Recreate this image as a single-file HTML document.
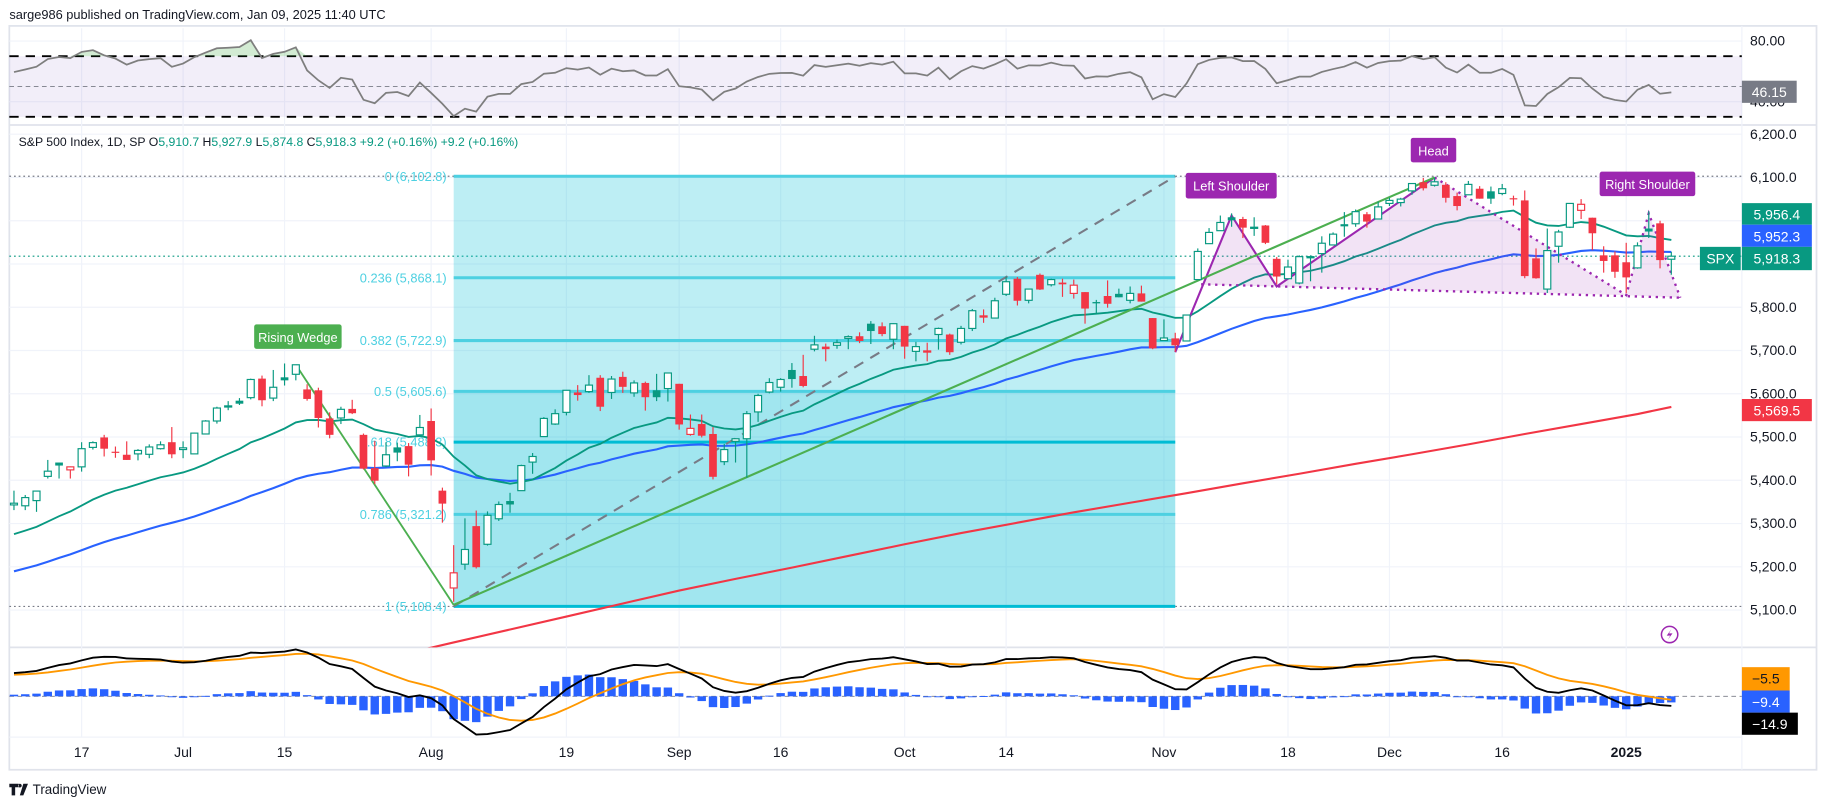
<!DOCTYPE html>
<html><head><meta charset="utf-8"><style>
html,body{margin:0;padding:0;background:#fff;}
svg{display:block;font-family:"Liberation Sans",sans-serif;}
</style></head><body>
<svg id="chart" width="1827" height="805" viewBox="0 0 1567 690" xmlns="http://www.w3.org/2000/svg">
<defs>
<clipPath id="cpPrice"><rect x="0" y="108" width="1494" height="447"/></clipPath>
<clipPath id="cpRsi"><rect x="0" y="24" width="1494" height="83"/></clipPath>
<clipPath id="cpMacd"><rect x="0" y="556" width="1494" height="76"/></clipPath>
</defs>
<text x="8" y="16" font-size="11" fill="#131722">sarge986 published on TradingView.com, Jan 09, 2025 11:40 UTC</text>
<rect x="8" y="22" width="1550" height="638" fill="none" stroke="#e0e3eb" stroke-width="1.5"/>
<line x1="8" y1="107" x2="1558" y2="107" stroke="#e0e3eb" stroke-width="1.5"/>
<line x1="8" y1="555" x2="1558" y2="555" stroke="#e0e3eb" stroke-width="1.5"/>
<line x1="8" y1="632" x2="1494" y2="632" stroke="#f0f3fa" stroke-width="1"/>
<line x1="1494" y1="22" x2="1494" y2="660" stroke="#f0f3fa" stroke-width="1"/>
<g id="grid"></g>
<g id="rsi" clip-path="url(#cpRsi)"></g>
<g id="price" clip-path="url(#cpPrice)"></g>
<g id="macd" clip-path="url(#cpMacd)"></g>
<g id="axes"></g>
<text x="16" y="125" font-size="10.5" fill="#131722">S&amp;P 500 Index, 1D, SP  <tspan fill="#131722">O</tspan><tspan fill="#089981">5,910.7</tspan> <tspan fill="#131722">H</tspan><tspan fill="#089981">5,927.9</tspan> <tspan fill="#131722">L</tspan><tspan fill="#089981">5,874.8</tspan> <tspan fill="#131722">C</tspan><tspan fill="#089981">5,918.3 +9.2 (+0.16%) +9.2 (+0.16%)</tspan></text>
<g><rect x="218" y="278" width="75" height="21" rx="2" fill="#4caf50"/><text x="255.5" y="293" font-size="11" fill="#fff" text-anchor="middle">Rising Wedge</text></g>
<g><rect x="1017" y="148" width="78" height="22" rx="2" fill="#9c27b0"/><text x="1056" y="163" font-size="11" fill="#fff" text-anchor="middle">Left Shoulder</text></g>
<g><rect x="1210" y="118" width="39" height="21" rx="2" fill="#9c27b0"/><text x="1229.5" y="133" font-size="11" fill="#fff" text-anchor="middle">Head</text></g>
<g><rect x="1372" y="147" width="82" height="21" rx="2" fill="#9c27b0"/><text x="1413" y="162" font-size="11" fill="#fff" text-anchor="middle">Right Shoulder</text></g>
<g><rect x="1494" y="69" width="47" height="19" fill="#787b86"/><text x="1517.5" y="83" font-size="12" fill="#fff" text-anchor="middle">46.15</text></g>
<g><rect x="1494" y="174" width="60" height="18.5" fill="#089981"/><text x="1524" y="188" font-size="12" fill="#fff" text-anchor="middle">5,956.4</text></g>
<g><rect x="1494" y="192.5" width="60" height="19" fill="#2962ff"/><text x="1524" y="207" font-size="12" fill="#fff" text-anchor="middle">5,952.3</text></g>
<g><rect x="1458" y="211.5" width="35" height="20" fill="#089981"/><text x="1475.5" y="226" font-size="12" fill="#fff" text-anchor="middle">SPX</text></g>
<g><rect x="1494" y="211.5" width="60" height="20" fill="#089981"/><text x="1524" y="226" font-size="12" fill="#fff" text-anchor="middle">5,918.3</text></g>
<g><rect x="1494" y="342" width="60" height="19" fill="#f23645"/><text x="1524" y="356" font-size="12" fill="#fff" text-anchor="middle">5,569.5</text></g>
<g><rect x="1494" y="572" width="41" height="20" fill="#ff9800"/><text x="1514.5" y="586" font-size="12" fill="#131722" text-anchor="middle">−5.5</text></g>
<g><rect x="1494" y="592" width="41" height="19" fill="#2962ff"/><text x="1514.5" y="606" font-size="12" fill="#fff" text-anchor="middle">−9.4</text></g>
<g><rect x="1494" y="611" width="48" height="19" fill="#000"/><text x="1518" y="625" font-size="12" fill="#fff" text-anchor="middle">−14.9</text></g>
<g><circle cx="1432" cy="544" r="7" fill="none" stroke="#9c27b0" stroke-width="1.3"/><path d="M1433.5 539.5 L1429.5 545 L1432.5 545 L1430.5 548.5 L1434.5 543 L1431.5 543 Z" fill="#9c27b0"/></g>
<g><path d="M8 672 h8 v3 h-3 v7 h-3 v-7 h-2 z M17 672 a1.6 1.6 0 1 0 0.1 0 z M20 672 h4 l-4 10 h-3 z" fill="#131722"/><text x="28" y="681" font-size="11.5" fill="#131722">TradingView</text></g>
<script>
// ---- data ----
const dates = ["06-07","06-10","06-11","06-12","06-13","06-14","06-17","06-18","06-20","06-21","06-24","06-25","06-26","06-27","06-28",
"07-01","07-02","07-03","07-05","07-08","07-09","07-10","07-11","07-12","07-15","07-16","07-17","07-18","07-19","07-22","07-23","07-24","07-25","07-26","07-29","07-30","07-31",
"08-01","08-02","08-05","08-06","08-07","08-08","08-09","08-12","08-13","08-14","08-15","08-16","08-19","08-20","08-21","08-22","08-23","08-26","08-27","08-28","08-29","08-30",
"09-03","09-04","09-05","09-06","09-09","09-10","09-11","09-12","09-13","09-16","09-17","09-18","09-19","09-20","09-23","09-24","09-25","09-26","09-27","09-30",
"10-01","10-02","10-03","10-04","10-07","10-08","10-09","10-10","10-11","10-14","10-15","10-16","10-17","10-18","10-21","10-22","10-23","10-24","10-25","10-28","10-29","10-30","10-31",
"11-01","11-04","11-05","11-06","11-07","11-08","11-11","11-12","11-13","11-14","11-15","11-18","11-19","11-20","11-21","11-22","11-25","11-26","11-27","11-29",
"12-02","12-03","12-04","12-05","12-06","12-09","12-10","12-11","12-12","12-13","12-16","12-17","12-18","12-19","12-20","12-23","12-24","12-26","12-27","12-30","12-31",
"01-02","01-03","01-06","01-07","01-08"];
const opens = [5343,5341,5353,5409,5441,5424,5431,5476,5499,5466,5459,5461,5460,5473,5488,
5471,5461,5507,5537,5572,5584,5591,5635,5590,5638,5645,5610,5608,5543,5544,5565,5505,5428,5433,5476,5479,5505,
5537,5376,5151,5206,5294,5252,5311,5352,5376,5442,5501,5530,5557,5603,5605,5637,5603,5639,5602,5625,5608,5612,
5623,5506,5530,5507,5443,5490,5496,5558,5604,5615,5655,5641,5703,5709,5712,5728,5733,5762,5756,5726,
5757,5698,5698,5737,5737,5719,5751,5778,5775,5830,5866,5816,5875,5852,5857,5832,5835,5812,5826,5831,5816,5832,5775,
5723,5728,5722,5864,5947,5977,6008,6004,5985,5989,5912,5866,5856,5917,5924,5944,5992,5993,6015,6004,
6040,6042,6069,6089,6082,6083,6057,6060,6074,6068,6063,6052,6047,5913,5842,5941,5985,6024,6007,5920,5920,
5904,5891,5982,5994,5911];
const highs = [5376,5366,5376,5447,5441,5432,5488,5490,5505,5478,5490,5472,5483,5490,5523,
5490,5510,5539,5570,5583,5590,5635,5642,5655,5670,5667,5622,5614,5557,5570,5586,5508,5491,5488,5487,5486,5551,
5566,5383,5250,5312,5330,5328,5351,5371,5436,5463,5546,5564,5608,5620,5643,5643,5641,5651,5631,5628,5646,5648,
5623,5552,5552,5523,5484,5497,5560,5600,5636,5636,5671,5690,5734,5716,5725,5735,5742,5768,5765,5763,
5757,5720,5718,5753,5739,5757,5796,5795,5822,5871,5870,5843,5878,5866,5866,5864,5835,5817,5862,5843,5848,5850,5775,
5772,5741,5783,5936,5983,6012,6017,6009,6008,5990,5916,5910,5920,5920,5964,5973,6020,6026,6020,6044,
6053,6053,6087,6099,6100,6089,6065,6092,6080,6079,6085,6058,6070,5936,5982,5979,6041,6050,6007,5941,5929,
5949,5950,6022,6000,5928];
const lows = [5331,5331,5327,5404,5404,5404,5420,5471,5455,5452,5447,5446,5451,5471,5451,
5451,5462,5507,5531,5562,5574,5587,5571,5583,5619,5631,5584,5522,5497,5530,5553,5425,5391,5430,5444,5409,5503,
5411,5302,5119,5193,5196,5249,5306,5325,5376,5415,5501,5528,5550,5584,5602,5560,5588,5602,5593,5561,5583,5582,
5517,5503,5499,5402,5435,5441,5406,5535,5601,5605,5614,5615,5698,5675,5704,5703,5717,5715,5733,5703,
5681,5675,5675,5702,5690,5714,5745,5764,5775,5826,5804,5809,5840,5848,5824,5820,5762,5784,5799,5823,5809,5813,5703,
5723,5697,5722,5864,5947,5977,5986,5960,5965,5946,5853,5865,5853,5860,5880,5944,5963,5986,5984,6004,
6034,6033,6060,6070,6079,6042,6024,6060,6051,6039,6059,6035,5867,5866,5833,5903,5983,6004,5932,5880,5868,
5832,5889,5960,5890,5875];
const closes = [5347,5360,5375,5421,5434,5431,5473,5487,5473,5464,5447,5469,5477,5482,5460,
5475,5509,5537,5567,5572,5577,5633,5585,5615,5631,5667,5588,5544,5505,5564,5555,5427,5399,5459,5464,5436,5522,
5446,5346,5186,5240,5199,5319,5344,5344,5434,5455,5543,5554,5608,5597,5620,5570,5634,5616,5625,5592,5592,5648,
5529,5520,5503,5408,5471,5496,5554,5596,5626,5633,5634,5618,5713,5703,5718,5732,5722,5745,5738,5762,
5709,5709,5699,5751,5696,5751,5792,5780,5815,5859,5815,5842,5841,5864,5853,5851,5797,5809,5808,5823,5832,5813,5705,
5729,5712,5782,5929,5973,5996,6001,5984,5985,5949,5871,5893,5917,5917,5948,5969,5987,6021,5998,6032,
6047,6050,6086,6075,6090,6053,6034,6084,6051,6051,6074,6051,5872,5867,5931,5974,6040,6038,5971,5907,5882,
5869,5942,5975,5909,5918];
const ma200Dates = ["07-29","08-05","08-12","08-19","08-26","09-03","09-10","09-17","09-24","10-01","10-08","10-15","10-22","10-29","11-05","11-12","11-19","11-26","12-04","12-11","12-18","12-26","01-03","01-08"];
const ma200Values = [4995,5025,5055,5085,5115,5145,5172,5198,5225,5252,5278,5302,5326,5348,5370,5393,5415,5438,5460,5483,5507,5530,5553,5569.5];
const priceTicks = [6200,6100,6000,5900,5800,5700,5600,5500,5400,5300,5200,5100];
const priceTickLabels = ["6,200.0","6,100.0","","","5,800.0","5,700.0","5,600.0","5,500.0","5,400.0","5,300.0","5,200.0","5,100.0"];
const timeTickDates = ["06-17","07-01","07-15","08-01","08-19","09-03","09-16","10-01","10-14","11-01","11-18","12-02","12-16","01-02"];
const timeTickLabels = ["17","Jul","15","Aug","19","Sep","16","Oct","14","Nov","18","Dec","16","2025"];
const fibLevels = [0,0.236,0.382,0.5,0.618,0.786,1];
const fibHigh = 6102.8, fibLow = 5108.4;
const rsiTicks = [80,40];
const rsiTickLabels = ["80.00","40.00"];

// ---- scales ----
const NS="http://www.w3.org/2000/svg";
function idx(d){return dates.indexOf(d);}
function xOf(i){return 70+(i-6)*9.67;}
function yP(p){return 152+(6100-p)*0.371;}
function yR(v){return 74-(v-50)*1.3;}
function yM(v){return 597-v*0.55;}
function mk(tag,attrs,parent){const e=document.createElementNS(NS,tag);for(const k in attrs)e.setAttribute(k,attrs[k]);parent.appendChild(e);return e;}
const G=document.getElementById('grid'),P=document.getElementById('price'),R=document.getElementById('rsi'),M=document.getElementById('macd'),A=document.getElementById('axes');

// grid
timeTickDates.forEach((d,k)=>{const x=xOf(idx(d));
 const l=mk('line',{x1:x,y1:24,x2:x,y2:632,stroke:'#f0f3fa','stroke-width':1},G);
 
 
 const t=mk('text',{x:x,y:649,'font-size':12,fill:'#131722','text-anchor':'middle','font-weight':timeTickLabels[k]==='2025'?'bold':'normal'},A);
 t.textContent=timeTickLabels[k];
 
 
});
priceTicks.forEach((p,k)=>{const y=yP(p);
 const l=mk('line',{x1:8,y1:y,x2:1494,y2:y,stroke:'#f0f3fa','stroke-width':1},G);
 
 
 if(priceTickLabels[k]){const t=mk('text',{x:1501,y:y+4,'font-size':12,fill:'#131722'},A);
 t.textContent=priceTickLabels[k];
 
 }
});
rsiTicks.forEach((v,k)=>{const y=yR(v);
 const l=mk('line',{x1:8,y1:y,x2:1494,y2:y,stroke:'#f0f3fa','stroke-width':1},G);
 
 
 const t=mk('text',{x:1501,y:y+4,'font-size':12,fill:'#131722'},A);
 t.textContent=rsiTickLabels[k];
 
 
});

// ---- RSI ----
const band=mk('rect',{x:8,y:yR(70),width:1486,height:yR(30)-yR(70),fill:'rgba(126,87,194,0.1)'},R);


[70,30].forEach(v=>{const l=mk('line',{x1:8,y1:yR(v),x2:1494,y2:yR(v),stroke:'#000','stroke-width':1.6,'stroke-dasharray':'8,6'},R);
 
 });
const mid=mk('line',{x1:8,y1:yR(50),x2:1494,y2:yR(50),stroke:'#787b86','stroke-width':0.8,'stroke-dasharray':'4,3'},R);


let ag=14,al=9.5;const rsi=[];
closes.forEach((c,i)=>{if(i>0){const ch=c-closes[i-1];ag=(ag*13+Math.max(ch,0))/14;al=(al*13+Math.max(-ch,0))/14;}rsi.push(100-100/(1+ag/al));});
let rp='';rsi.forEach((v,i)=>{rp+=(i?'L':'M')+xOf(i).toFixed(1)+' '+yR(v).toFixed(1);});
let ob='M'+xOf(0)+' '+yR(70);rsi.forEach((v,i)=>{ob+='L'+xOf(i).toFixed(1)+' '+yR(Math.max(v,70)).toFixed(1);});ob+='L'+xOf(rsi.length-1)+' '+yR(70)+'Z';
const obf=mk('path',{d:ob,fill:'rgba(76,175,80,0.25)'},R);


const rl=mk('path',{d:rp,fill:'none',stroke:'#7e7e7e','stroke-width':1.5},R);



// ---- price pane ----
// dotted horizontal lines
[[fibHigh,'#787b86'],[fibLow,'#787b86'],[closes[closes.length-1],'#089981']].forEach(a=>{
 const l=mk('line',{x1:8,y1:yP(a[0]),x2:1494,y2:yP(a[0]),stroke:a[1],'stroke-width':1,'stroke-dasharray':'1.5,2.5'},P);
 
 });
// fib box
const fx1=xOf(idx('08-05')),fx2=xOf(idx('11-04'));
function fibP(l){return fibHigh-l*(fibHigh-fibLow);}
const fb1=mk('rect',{x:fx1,y:yP(fibP(0)),width:fx2-fx1,height:yP(fibP(0.5))-yP(fibP(0)),fill:'rgba(0,188,212,0.26)'},P);


const fb2=mk('rect',{x:fx1,y:yP(fibP(0.5)),width:fx2-fx1,height:yP(fibP(1))-yP(fibP(0.5)),fill:'rgba(0,188,212,0.37)'},P);


fibLevels.forEach(l=>{const y=yP(fibP(l));
 const ln=mk('line',{x1:fx1,y1:y,x2:fx2,y2:y,stroke:l===0.618||l===1?'#00bcd4':'#4dd0e1','stroke-width':2.6},P);
 
 
 const t=mk('text',{x:fx1-6,y:y+4,'font-size':11,fill:'#4dd0e1','text-anchor':'end'},P);
 t.textContent=l+' ('+fibP(l).toLocaleString('en-US',{minimumFractionDigits:1,maximumFractionDigits:1})+')';
 
 
});
const dl=mk('line',{x1:fx1,y1:yP(fibLow),x2:fx2,y2:yP(fibHigh),stroke:'#787b86','stroke-width':1.8,'stroke-dasharray':'9,7'},P);


// MA
let e20=5268,e50=5183;const ema20=[],ema50=[];
closes.forEach((c,i)=>{e20=e20+(c-e20)*2/21;e50=e50+(c-e50)*2/51;ema20.push(e20);ema50.push(e50);});
function pathOf(arr,yf){let d='';arr.forEach((v,i)=>{d+=(i?'L':'M')+xOf(i).toFixed(1)+' '+yf(v).toFixed(1);});return d;}
let d200='';ma200Dates.forEach((d,k)=>{d200+=(k?'L':'M')+xOf(idx(d)).toFixed(1)+' '+yP(ma200Values[k]).toFixed(1);});
const m200=mk('path',{d:d200,fill:'none',stroke:'#f23645','stroke-width':1.8},P);


const m50=mk('path',{d:pathOf(ema50,yP),fill:'none',stroke:'#2962ff','stroke-width':1.8},P);


const m20=mk('path',{d:pathOf(ema20,yP),fill:'none',stroke:'#089981','stroke-width':1.6},P);


// H&S pattern
function pt(bar,p){return (70+bar*9.67).toFixed(1)+','+yP(p).toFixed(1);}
const fills=[[[99.5,5852],[102,6012],[106,5848]],[[106,5848],[120,6100],[137,5828]],[[137,5828],[139,6017],[141.8,5822]]];
fills.forEach(f=>{const pg=mk('polygon',{points:f.map(q=>pt(q[0],q[1])).join(' '),fill:'rgba(156,39,176,0.13)'},P);
 
 });
const hs=mk('polyline',{points:[[97,5696],[102,6012],[106,5848],[120,6100]].map(q=>pt(q[0],q[1])).join(' '),fill:'none',stroke:'#9c27b0','stroke-width':1.8},P);


const hsd=mk('polyline',{points:[[120,6100],[137,5828],[139,6017],[141.8,5822]].map(q=>pt(q[0],q[1])).join(' '),fill:'none',stroke:'#9c27b0','stroke-width':2,'stroke-dasharray':'2,4'},P);


const neck=mk('polyline',{points:[[99.3,5853],[141.8,5822]].map(q=>pt(q[0],q[1])).join(' '),fill:'none',stroke:'#9c27b0','stroke-width':2,'stroke-dasharray':'2,4'},P);


// wedge lines
const w1=mk('line',{x1:xOf(idx('07-16')),y1:yP(5667),x2:xOf(idx('08-05')),y2:yP(5112),stroke:'#4caf50','stroke-width':1.6},P);


const w2=mk('line',{x1:xOf(idx('08-05')),y1:yP(5112),x2:xOf(idx('12-06')),y2:yP(6100),stroke:'#4caf50','stroke-width':1.8},P);


// candles
closes.forEach((c,i)=>{const o=opens[i],h=highs[i],l=lows[i];const prev=i?closes[i-1]:o;
 const col=c>=prev?'#089981':'#f23645';const x=xOf(i);
 const g=mk('g',{},P);
 
 
 mk('line',{x1:x,y1:yP(h),x2:x,y2:yP(l),stroke:col,'stroke-width':1},g);
 const top=yP(Math.max(o,c)),bot=yP(Math.min(o,c));const hh=Math.max(bot-top,1);
 if(c>=o) mk('rect',{x:x-3,y:top,width:6,height:hh,fill:'#fff',stroke:col,'stroke-width':1},g);
 else mk('rect',{x:x-3.3,y:top,width:6.6,height:hh,fill:col},g);
});

// ---- MACD ----
let a12=5300,a26=5265,sg=33;const macd=[],sig=[],hist=[];
closes.forEach(c=>{a12+= (c-a12)*2/13;a26+=(c-a26)*2/27;const m=a12-a26;sg+=(m-sg)*2/10;macd.push(m);sig.push(sg);hist.push(m-sg);});
const zl=mk('line',{x1:8,y1:yM(0),x2:1494,y2:yM(0),stroke:'#787b86','stroke-width':0.8,'stroke-dasharray':'4,3'},M);


hist.forEach((v,i)=>{const y0=yM(0),y1=yM(v);
 const b=mk('rect',{x:xOf(i)-3.6,y:Math.min(y0,y1),width:7.2,height:Math.max(Math.abs(y1-y0),0.8),fill:'#2962ff'},M);
 
 });
const sl=mk('path',{d:pathOf(sig,yM),fill:'none',stroke:'#ff9800','stroke-width':1.6},M);


const ml=mk('path',{d:pathOf(macd,yM),fill:'none',stroke:'#000','stroke-width':1.6},M);


</script>
</svg>
</body></html>
